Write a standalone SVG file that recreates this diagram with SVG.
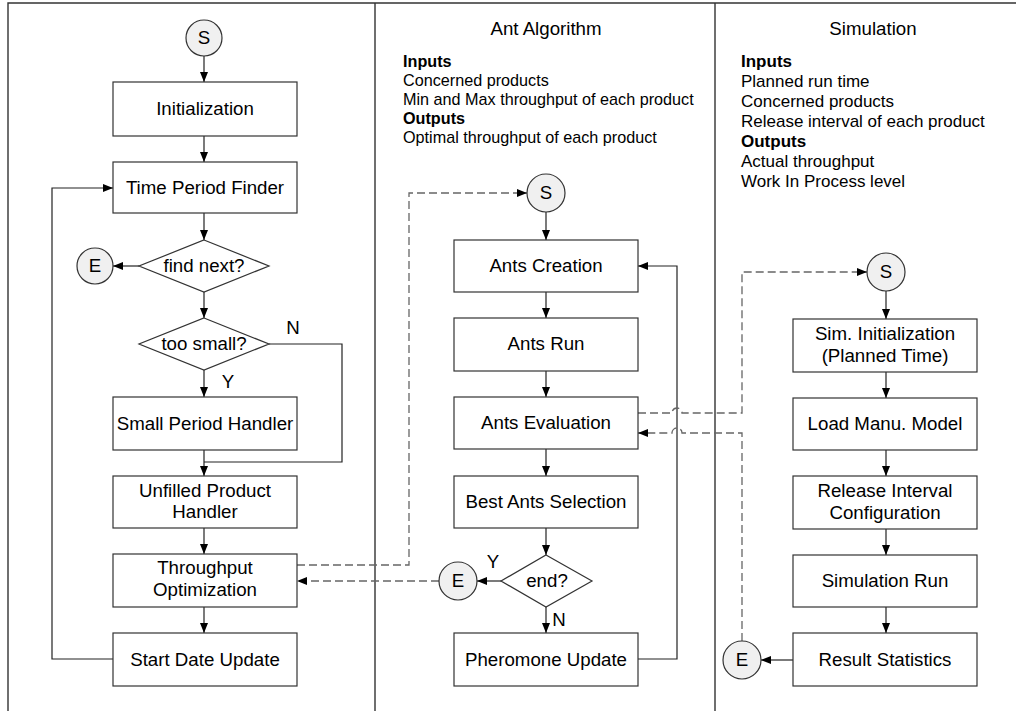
<svg xmlns="http://www.w3.org/2000/svg" width="1016" height="711" viewBox="0 0 1016 711">
<style>
.frame{stroke:#333;stroke-width:1.4;fill:none}
.box{fill:#fff;stroke:#333;stroke-width:1.2}
.circ{fill:#f0f0f0;stroke:#333;stroke-width:1.2}
.t{font-family:"Liberation Sans",Arial,sans-serif;font-size:18.7px;fill:#000;text-anchor:middle}
.d{font-family:"Liberation Sans",Arial,sans-serif;font-size:16.2px;fill:#000}
.d2{font-family:"Liberation Sans",Arial,sans-serif;font-size:17px;fill:#000}
.b{font-weight:bold}
.ln{stroke:#222;stroke-width:1.2;fill:none}
.dash{stroke:#666;stroke-width:1.3;fill:none;stroke-dasharray:8,4}
</style>
<defs>
<marker id="ah" viewBox="0 0 10 8" refX="10" refY="4" markerWidth="10" markerHeight="8" markerUnits="userSpaceOnUse" orient="auto">
<path d="M0,0 L10,4 L0,8 z" fill="#000"/>
</marker>
</defs>
<g id="frame">
<path class="frame" d="M8,711 V3 H1016 M375,3 V711 M715,3 V711"/>
</g>
<g id="headers">
<text class="t" x="546" y="35">Ant Algorithm</text>
<text class="d b" x="403" y="67">Inputs</text>
<text class="d" x="403" y="86">Concerned products</text>
<text class="d" x="403" y="105">Min and Max throughput of each product</text>
<text class="d b" x="403" y="124">Outputs</text>
<text class="d" x="403" y="143">Optimal throughput of each product</text>
<text class="t" x="873" y="35">Simulation</text>
<text class="d2 b" x="741" y="67">Inputs</text>
<text class="d2" x="741" y="87">Planned run time</text>
<text class="d2" x="741" y="107">Concerned products</text>
<text class="d2" x="741" y="127">Release interval of each product</text>
<text class="d2 b" x="741" y="147">Outputs</text>
<text class="d2" x="741" y="167">Actual throughput</text>
<text class="d2" x="741" y="187">Work In Process level</text>
</g>
<g id="connectors">
<path class="ln" d="M204,56 V82" marker-end="url(#ah)"/>
<path class="ln" d="M204,136 V162" marker-end="url(#ah)"/>
<path class="ln" d="M204,213 V240" marker-end="url(#ah)"/>
<path class="ln" d="M139,266 H113" marker-end="url(#ah)"/>
<path class="ln" d="M204,292 V318" marker-end="url(#ah)"/>
<path class="ln" d="M204,370 V397" marker-end="url(#ah)"/>
<path class="ln" d="M269,344 H342 V462 H204"/>
<path class="ln" d="M204,450 V476" marker-end="url(#ah)"/>
<path class="ln" d="M204,528 V554" marker-end="url(#ah)"/>
<path class="ln" d="M204,607 V633" marker-end="url(#ah)"/>
<path class="ln" d="M113,659 H52 V188 H113" marker-end="url(#ah)"/>
<path class="ln" d="M546,212 V240" marker-end="url(#ah)"/>
<path class="ln" d="M546,292 V318" marker-end="url(#ah)"/>
<path class="ln" d="M546,371 V397" marker-end="url(#ah)"/>
<path class="ln" d="M546,449 V476" marker-end="url(#ah)"/>
<path class="ln" d="M546,528 V555" marker-end="url(#ah)"/>
<path class="ln" d="M501,581 H477" marker-end="url(#ah)"/>
<path class="ln" d="M546,607 V633" marker-end="url(#ah)"/>
<path class="ln" d="M638,659 H677 V266 H638" marker-end="url(#ah)"/>
<path class="ln" d="M886,291 V319" marker-end="url(#ah)"/>
<path class="ln" d="M886,372 V398" marker-end="url(#ah)"/>
<path class="ln" d="M886,450 V476" marker-end="url(#ah)"/>
<path class="ln" d="M886,529 V555" marker-end="url(#ah)"/>
<path class="ln" d="M886,607 V633" marker-end="url(#ah)"/>
<path class="ln" d="M793,660 H761" marker-end="url(#ah)"/>
<path class="dash" d="M297,565 H409 V193 H527" marker-end="url(#ah)"/>
<path class="dash" d="M439,581 H297" marker-end="url(#ah)"/>
<path class="dash" d="M638,413 H672 A5,5 0 0 1 682,413 H742 V272 H867" marker-end="url(#ah)"/>
<path class="dash" d="M742,641 V433 H682 A5,5 0 0 0 672,433 H638" marker-end="url(#ah)"/>
<text class="t" x="293" y="334">N</text>
<text class="t" x="228" y="388">Y</text>
<text class="t" x="493" y="568">Y</text>
<text class="t" x="559" y="626">N</text>
</g>
<g id="s1"><circle class="circ" cx="204" cy="38" r="18"/><text class="t" x="204" y="44">S</text></g>
<g id="init"><rect class="box" x="113" y="82" width="184" height="54"/><text class="t" x="205" y="115">Initialization</text></g>
<g id="tpf"><rect class="box" x="113" y="162" width="184" height="51"/><text class="t" x="205" y="194">Time Period Finder</text></g>
<g id="findnext"><polygon class="box" points="204,240 269,266 204,292 139,266"/><text class="t" x="204" y="272">find next?</text></g>
<g id="e1"><circle class="circ" cx="95" cy="266" r="18"/><text class="t" x="95" y="272">E</text></g>
<g id="toosmall"><polygon class="box" points="204,318 269,344 204,370 139,344"/><text class="t" x="204" y="350">too small?</text></g>
<g id="sph"><rect class="box" x="113" y="397" width="184" height="53"/><text class="t" x="205" y="430">Small Period Handler</text></g>
<g id="uph"><rect class="box" x="113" y="476" width="184" height="52"/><text class="t" x="205" y="497">Unfilled Product</text><text class="t" x="205" y="518">Handler</text></g>
<g id="to"><rect class="box" x="113" y="554" width="184" height="53"/><text class="t" x="205" y="574">Throughput</text><text class="t" x="205" y="596">Optimization</text></g>
<g id="sdu"><rect class="box" x="113" y="633" width="184" height="53"/><text class="t" x="205" y="666">Start Date Update</text></g>
<g id="s2"><circle class="circ" cx="546" cy="193" r="19"/><text class="t" x="546" y="199">S</text></g>
<g id="ac"><rect class="box" x="454" y="240" width="184" height="52"/><text class="t" x="546" y="272">Ants Creation</text></g>
<g id="ar"><rect class="box" x="454" y="318" width="184" height="53"/><text class="t" x="546" y="350">Ants Run</text></g>
<g id="ae"><rect class="box" x="454" y="397" width="184" height="52"/><text class="t" x="546" y="429">Ants Evaluation</text></g>
<g id="bas"><rect class="box" x="454" y="476" width="184" height="52"/><text class="t" x="546" y="508">Best Ants Selection</text></g>
<g id="end"><polygon class="box" points="546,555 592,581 546,607 501,581"/><text class="t" x="547" y="587">end?</text></g>
<g id="e2"><circle class="circ" cx="458" cy="581" r="19"/><text class="t" x="458" y="587">E</text></g>
<g id="pu"><rect class="box" x="454" y="633" width="184" height="53"/><text class="t" x="546" y="666">Pheromone Update</text></g>
<g id="s3"><circle class="circ" cx="886" cy="272" r="19"/><text class="t" x="886" y="278">S</text></g>
<g id="si"><rect class="box" x="793" y="319" width="184" height="53"/><text class="t" x="885" y="340">Sim. Initialization</text><text class="t" x="885" y="362">(Planned Time)</text></g>
<g id="lmm"><rect class="box" x="793" y="398" width="184" height="52"/><text class="t" x="885" y="430">Load Manu. Model</text></g>
<g id="ric"><rect class="box" x="793" y="476" width="184" height="53"/><text class="t" x="885" y="497">Release Interval</text><text class="t" x="885" y="519">Configuration</text></g>
<g id="sr"><rect class="box" x="793" y="555" width="184" height="52"/><text class="t" x="885" y="587">Simulation Run</text></g>
<g id="rs"><rect class="box" x="793" y="633" width="184" height="53"/><text class="t" x="885" y="666">Result Statistics</text></g>
<g id="e3"><circle class="circ" cx="742" cy="660" r="19"/><text class="t" x="742" y="666">E</text></g>
</svg>
